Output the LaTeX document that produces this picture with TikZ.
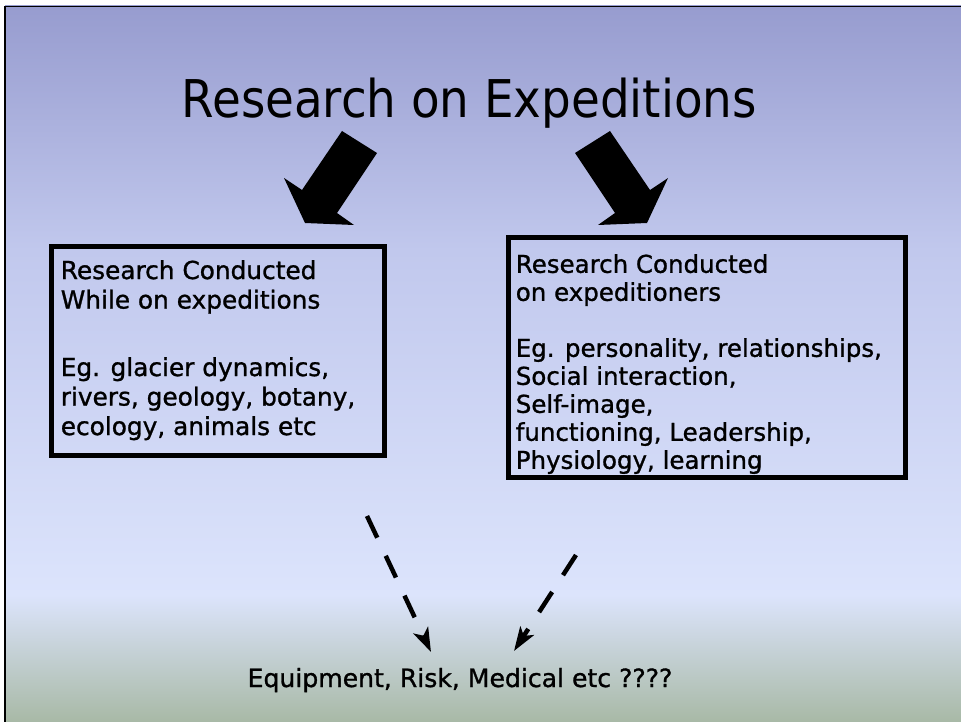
\documentclass[tikz,border=0pt]{standalone}
\usepackage{fontspec}
\setmainfont[FakeBold=1.1]{DejaVu Sans}
\newfontfamily\titlefont{DejaVu Sans Condensed}
\usetikzlibrary{arrows.meta}

\definecolor{skytop}{HTML}{979CCF}
\definecolor{skymid}{HTML}{C1C8ED}
\definecolor{skylow}{HTML}{DCE4FC}
\definecolor{sage}{HTML}{A8B9A6}

\begin{document}
\begin{tikzpicture}[x=1pt, y=-1pt,
  framebox/.style={draw=black, line width=5pt, inner sep=0pt, outer sep=0pt},
  boxtext/.style={anchor=north west, inner sep=0pt, align=left},
  blockarrow/.style={fill=black},
  dasharrow/.style={line width=4.5pt, dash pattern=on 24pt off 20pt,
    -{Stealth[length=24pt, width=16pt, inset=6pt]}}
]
\useasboundingbox (0,0) rectangle (961,722);

% slide background: blue-to-pale sky, fading into sage at the foot
\fill[white] (0,0) rectangle (961,722);
\fill[top color=skytop, bottom color=skymid] (5,6) rectangle (961,250.5);
\fill[top color=skymid, bottom color=skylow] (5,250) rectangle (961,595.5);
\fill[top color=skylow, bottom color=sage] (5,595) rectangle (961,722);
\draw[line width=1.8pt] (5,722) -- (5,6.5) -- (961,6.5);

% heading
\node[anchor=base, inner sep=0pt] (title) at (469.5,118)
  {\titlefont\resizebox{575pt}{!}{Research on Expeditions}};

% two block arrows from the heading
\fill[blockarrow] (342,131) -- (377,153) -- (337,213) -- (354,225)
  -- (305,223) -- (284,178) -- (302,190) -- cycle;
\fill[blockarrow] (610,131) -- (575,153) -- (615,213) -- (598,225)
  -- (647,223) -- (668,178) -- (650,190) -- cycle;

% framed boxes
\node[framebox, minimum width=333pt, minimum height=209pt] (lbox) at (218,351) {};
\node[framebox, minimum width=397pt, minimum height=240pt] (rbox) at (707,357.5) {};

\node[boxtext, font=\fontsize{24.8}{29.5}\selectfont] (ltext) at (60.6,260)
  {Research Conducted\\While on expeditions\\[38pt]Eg. glacier dynamics,\\rivers, geology, botany,\\ecology, animals etc};
\node[boxtext, font=\fontsize{24.5}{28}\selectfont] (rtext) at (515.6,254)
  {Research Conducted\\on expeditioners\\[28pt]Eg. personality, relationships,\\Social interaction,\\Self-image,\\functioning, Leadership,\\Physiology, learning};

% bottom line of text
\node[anchor=base, inner sep=0pt, font=\fontsize{25.1}{30}\selectfont] (eq) at (460,687)
  {Equipment, Risk, Medical etc ????};

% dashed arrows towards the bottom line
\coordinate (la) at (367,516);
\coordinate (lb) at (431,652);
\coordinate (ra) at (576,555);
\coordinate (rb) at (514,651);
\draw[dasharrow] (la) -- (lb);
\draw[dasharrow] (ra) -- (rb);
\end{tikzpicture}
\end{document}
